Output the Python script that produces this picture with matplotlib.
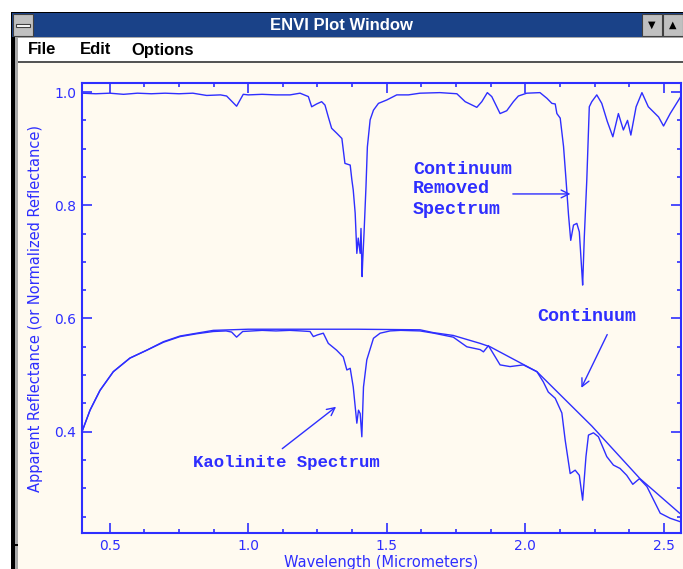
import matplotlib.pyplot as plt
from matplotlib.patches import Rectangle

# kaolinite reflectance spectrum (lower curve)
kao_wl = [0.400, 0.429, 0.465, 0.513, 0.573, 0.634, 0.694, 0.754, 0.814, 0.874,
          0.920, 0.940, 0.958, 0.980, 1.050, 1.100, 1.150, 1.190, 1.223, 1.235,
          1.250, 1.271, 1.289, 1.319, 1.343, 1.356, 1.368, 1.379, 1.392, 1.398,
          1.404, 1.410, 1.416, 1.428, 1.452, 1.476, 1.512, 1.550, 1.620, 1.670,
          1.740, 1.789, 1.837, 1.849, 1.867, 1.909, 1.945, 1.993, 2.042, 2.065,
          2.083, 2.108, 2.132, 2.144, 2.162, 2.180, 2.195, 2.207, 2.219, 2.228,
          2.246, 2.264, 2.294, 2.318, 2.342, 2.366, 2.388, 2.412, 2.439, 2.487,
          2.523, 2.559]
kao_refl = [0.400, 0.438, 0.473, 0.506, 0.530, 0.544, 0.558, 0.568, 0.573, 0.577,
            0.578, 0.576, 0.567, 0.577, 0.579, 0.578, 0.579, 0.578, 0.577, 0.568,
            0.571, 0.574, 0.556, 0.544, 0.532, 0.509, 0.512, 0.479, 0.415, 0.438,
            0.432, 0.391, 0.479, 0.527, 0.565, 0.574, 0.578, 0.579, 0.578, 0.574,
            0.567, 0.550, 0.545, 0.541, 0.552, 0.518, 0.515, 0.518, 0.506, 0.488,
            0.470, 0.459, 0.433, 0.385, 0.326, 0.332, 0.323, 0.279, 0.356, 0.394,
            0.398, 0.391, 0.356, 0.341, 0.335, 0.323, 0.307, 0.317, 0.303, 0.256,
            0.247, 0.241]

# continuum (hull) line
cont_wl = [0.400, 0.429, 0.465, 0.513, 0.573, 0.634, 0.694, 0.754, 0.814, 0.874,
           1.000, 1.392, 1.620, 1.668, 1.740, 1.837, 1.873, 2.042, 2.240, 2.414,
           2.557]
cont_refl = [0.400, 0.438, 0.473, 0.506, 0.530, 0.544, 0.559, 0.569, 0.574, 0.579,
             0.581, 0.581, 0.580, 0.575, 0.570, 0.556, 0.550, 0.506, 0.410, 0.317,
             0.256]

# continuum removed spectrum (upper curve)
cr_wl = [0.400, 0.450, 0.500, 0.550, 0.600, 0.650, 0.700, 0.750, 0.800, 0.850,
         0.900, 0.922, 0.958, 0.982, 1.000, 1.050, 1.100, 1.151, 1.187, 1.217,
         1.229, 1.247, 1.265, 1.277, 1.289, 1.301, 1.320, 1.338, 1.349, 1.368,
         1.374, 1.379, 1.386, 1.392, 1.397, 1.404, 1.407, 1.411, 1.413, 1.418,
         1.425, 1.430, 1.440, 1.452, 1.470, 1.500, 1.536, 1.578, 1.620, 1.692,
         1.753, 1.783, 1.825, 1.843, 1.863, 1.879, 1.909, 1.933, 1.957, 1.975,
         2.005, 2.053, 2.078, 2.096, 2.108, 2.114, 2.126, 2.138, 2.147, 2.156,
         2.164, 2.174, 2.186, 2.195, 2.204, 2.207, 2.213, 2.222, 2.231, 2.240,
         2.258, 2.276, 2.296, 2.316, 2.336, 2.354, 2.369, 2.381, 2.400, 2.421,
         2.444, 2.481, 2.499, 2.523, 2.565]
cr_refl = [0.998, 0.997, 0.998, 0.996, 0.998, 0.997, 0.998, 0.997, 0.998, 0.994,
           0.995, 0.993, 0.975, 0.996, 0.995, 0.996, 0.995, 0.995, 0.998, 0.992,
           0.974, 0.979, 0.983, 0.977, 0.956, 0.936, 0.927, 0.918, 0.874, 0.871,
           0.845, 0.827, 0.786, 0.715, 0.742, 0.715, 0.759, 0.674, 0.700, 0.751,
           0.833, 0.903, 0.951, 0.968, 0.980, 0.986, 0.995, 0.995, 0.998, 0.999,
           0.997, 0.983, 0.973, 0.983, 0.999, 0.992, 0.962, 0.967, 0.983, 0.993,
           0.998, 0.999, 0.989, 0.980, 0.979, 0.962, 0.954, 0.904, 0.845, 0.783,
           0.738, 0.765, 0.768, 0.753, 0.683, 0.659, 0.744, 0.845, 0.974, 0.983,
           0.995, 0.980, 0.948, 0.921, 0.962, 0.933, 0.950, 0.924, 0.974, 0.999,
           0.974, 0.956, 0.940, 0.962, 0.995]

x_ticks = [0.5, 1.0, 1.5, 2.0, 2.5]
y_ticks = [0.4, 0.6, 0.8, 1.0]

blue = '#2e2eff'
cream = '#fffaf0'

fig = plt.figure(figsize=(6.83, 5.69), dpi=100)
fig.patch.set_facecolor('white')
W, H = 683.0, 569.0


def box(x0, y0, x1, y1, **kw):
    # rectangle given in pixel coords (top-left origin), kept behind the axes
    fig.patches.append(Rectangle((x0 / W, 1 - y1 / H), (x1 - x0) / W, (y1 - y0) / H,
                                 transform=fig.transFigure, zorder=-10, **kw))


# window chrome
box(11, 12, 683, 569, facecolor='black', edgecolor='none')
box(15, 13, 683, 569, facecolor='#a8a8a8', edgecolor='none')
box(18, 62, 683, 569, facecolor=cream, edgecolor='none')
box(12, 13, 683, 37, facecolor='#1a4288', edgecolor='none')
box(18, 38, 683, 61, facecolor='white', edgecolor='none')
box(18, 61, 683, 62.5, facecolor='#555555', edgecolor='none')
box(13, 14, 33, 36, facecolor='#c0c0c0', edgecolor='#404040', lw=0.8)
box(16, 23.5, 30, 26.5, facecolor='white', edgecolor='#404040', lw=0.8)
box(642, 14, 662, 36, facecolor='#c0c0c0', edgecolor='#404040', lw=0.8)
box(663, 14, 683, 36, facecolor='#c0c0c0', edgecolor='#404040', lw=0.8)
box(15, 544, 18, 545.5, facecolor='black', edgecolor='none')
fig.text(652 / W, 1 - 25 / H, '\u25bc', ha='center', va='center', fontsize=7, color='black')
fig.text(673 / W, 1 - 25 / H, '\u25b2', ha='center', va='center', fontsize=7, color='black')
fig.text(341 / W, 1 - 26 / H, 'ENVI Plot Window', ha='center', va='center',
         fontsize=12, color='white', fontweight='bold', family='Liberation Sans')
for label, px in [('File', 28), ('Edit', 80), ('Options', 131)]:
    fig.text(px / W, 1 - 50 / H, label, ha='left', va='center', fontsize=12,
             fontweight='bold', family='Liberation Sans')

ax = fig.add_axes([82 / W, 1 - 533 / H, (681 - 82) / W, (533 - 83) / H])
ax.set_facecolor(cream)
ax.plot(cr_wl, cr_refl, color=blue, lw=1.0)
ax.plot(kao_wl, kao_refl, color=blue, lw=1.0)
ax.plot(cont_wl, cont_refl, color=blue, lw=1.0)

ax.set_xlim(0.4, 2.562)
ax.set_ylim(0.221, 1.016)
ax.set_xticks(x_ticks)
ax.set_xticklabels(['%.1f' % v for v in x_ticks])
ax.set_yticks(y_ticks)
ax.set_yticklabels(['%.1f' % v for v in y_ticks])
ax.set_xticks([0.5 + k * 0.125 for k in range(0, 17)], minor=True)
ax.set_yticks([v / 100 for v in range(25, 101, 5)], minor=True)
ax.tick_params(which='both', direction='in', top=True, right=True, colors=blue,
               labelsize=10, width=1.2)
ax.tick_params(which='major', length=7, pad=4)
ax.tick_params(which='minor', length=3)
for lab in ax.get_xticklabels() + ax.get_yticklabels():
    lab.set_family('DejaVu Sans')
for sp in ax.spines.values():
    sp.set_color(blue)
    sp.set_linewidth(1.5)

ax.set_xlabel('Wavelength (Micrometers)', color=blue, fontsize=10.5,
              family='DejaVu Sans', labelpad=1.5)
ax.set_ylabel('Apparent Reflectance (or Normalized Reflectance)', color=blue,
              fontsize=10.5, family='DejaVu Sans', labelpad=8)

ann = dict(color=blue, fontsize=13.2, fontweight='bold', family='Liberation Mono')
arrow = dict(arrowstyle='->', color=blue, lw=1.0, mutation_scale=14)
ax.text(1.595, 0.864, 'Continuum', ha='left', va='center', **ann)
ax.text(1.595, 0.829, 'Removed', ha='left', va='center', **ann)
ax.text(1.595, 0.792, 'Spectrum', ha='left', va='center', **ann)
ax.annotate('', xy=(2.173, 0.820), xytext=(1.945, 0.820), arrowprops=arrow)
ax.text(2.222, 0.603, 'Continuum', ha='center', va='center', **ann)
ax.annotate('', xy=(2.198, 0.473), xytext=(2.300, 0.576), arrowprops=arrow)
ax.text(0.802, 0.345, 'Kaolinite Spectrum', ha='left', va='center',
        **dict(ann, fontsize=12.5))
ax.annotate('', xy=(1.325, 0.447), xytext=(1.115, 0.367), arrowprops=arrow)

fig.savefig('out.png', dpi=100, facecolor=fig.get_facecolor())
